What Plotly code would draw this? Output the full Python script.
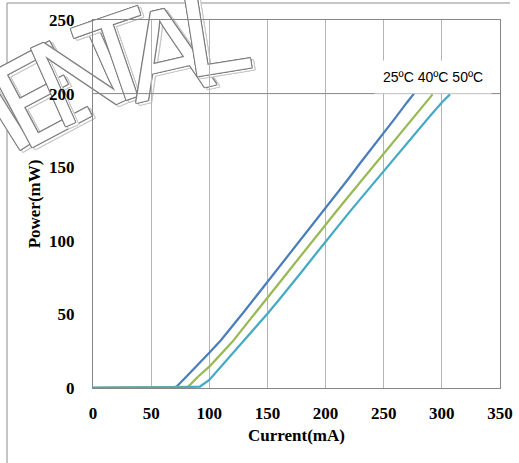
import plotly.graph_objects as go

# ---- data ----
current_25 = [0, 10, 20, 30, 40, 50, 60, 70, 72, 80, 90, 100, 110, 120, 130, 140, 150, 160, 170,
              180, 190, 200, 210, 220, 230, 240, 250, 260, 270, 276]
power_25 = [0, 0, 0, 0.1, 0.2, 0.3, 0.5, 0.8, 1.0, 7.5, 15.5, 24, 32.5, 42, 52, 62, 72, 82, 92,
            102, 112, 122, 132.5, 142.5, 153, 163, 173.5, 183.5, 194, 200]

current_40 = [0, 10, 20, 30, 40, 50, 60, 70, 80, 82, 90, 100, 110, 120, 130, 140, 150, 160, 170,
              180, 190, 200, 210, 220, 230, 240, 250, 260, 270, 280, 290, 292]
power_40 = [0, 0, 0, 0.1, 0.2, 0.3, 0.4, 0.6, 0.8, 1.0, 7.5, 14.5, 23, 31.5, 41.5, 51.5, 61.5, 71.5,
            81.3, 91, 101, 111.2, 120.8, 130.4, 140, 149.6, 159.2, 168.8, 178.5, 188, 197.5, 199.5]

current_50 = [0, 10, 20, 30, 40, 50, 60, 70, 80, 90, 92, 100, 110, 120, 130, 140, 150, 160, 170,
              180, 190, 200, 210, 220, 230, 240, 250, 260, 270, 280, 290, 300, 307]
power_50 = [0, 0, 0, 0.1, 0.2, 0.3, 0.4, 0.5, 0.6, 0.8, 1.0, 5.5, 14.5, 23, 32, 41.5, 50.5, 60,
            69.5, 79.5, 89.5, 99.5, 109.5, 119, 128.5, 138, 147.5, 157, 166.5, 175.5, 185, 194, 199.5]

x_ticks = [0, 50, 100, 150, 200, 250, 300, 350]
y_ticks = [0, 50, 100, 150, 200, 250]
legend_text = "25ºC 40ºC 50ºC"
watermark_letters = ["I", "E", "N", "T", "A", "L"]

# ---- layout geometry helpers (pixels -> paper) ----
W, H = 519, 463
L, R, T, B = 93, 19, 20, 75
PW, PH = W - L - R, H - T - B


def px(x):
    return (x - L) / PW


def py(y):
    return (H - B - y) / PH


fig = go.Figure()

colors = ["#4A7EBB", "#98B954", "#46AAC5"]
for xs, ys, c, name in [(current_25, power_25, colors[0], "25ºC"),
                        (current_40, power_40, colors[1], "40ºC"),
                        (current_50, power_50, colors[2], "50ºC")]:
    fig.add_trace(go.Scatter(x=xs, y=ys, mode="lines", name=name,
                             line=dict(color=c, width=2.25), hoverinfo="skip"))

shapes = []
# outer frame (top and left edges)
shapes.append(dict(type="line", xref="paper", yref="paper", x0=px(7), x1=px(510), y0=py(3), y1=py(3),
                   line=dict(color="#8C8C8C", width=1), layer="below"))
shapes.append(dict(type="line", xref="paper", yref="paper", x0=px(7), x1=px(7), y0=py(3), y1=py(470),
                   line=dict(color="#8C8C8C", width=1), layer="below"))

# watermark letters (outlined, below the plot content)
wm_pos = [(-4, 100, -32), (34, 84, -28), (75, 62, -24), (114, 46, -19), (164, 40, -13), (213, 18, -9)]
outline_dark = "#7F7F7F"
outline_light = "#C8C8C8"


def outline(col, dx=0, dy=0):
    offs = [(1, 1), (-1, -1), (1, -1), (-1, 1), (1, 0), (-1, 0), (0, 1), (0, -1)]
    return ", ".join(f"{a + dx}px {b + dy}px 0 {col}" for a, b in offs)


for letter, (cx, cy, ang) in zip(watermark_letters, wm_pos):
    for dx, dy, col in [(3, 2, outline_light), (0, 0, outline_dark)]:
        shapes.append(dict(type="rect", xref="paper", yref="paper",
                           x0=px(cx + dx - 70), x1=px(cx + dx + 70),
                           y0=py(cy + dy + 80), y1=py(cy + dy - 80),
                           line=dict(width=0), fillcolor="rgba(0,0,0,0)", layer="below",
                           label=dict(text=letter, textposition="middle center", textangle=ang,
                                      font=dict(family="Liberation Sans Narrow, Liberation Sans, Arial",
                                                size=124, color="white", weight="normal",
                                                shadow=outline(col)))))

# single horizontal gridline at 200
shapes.append(dict(type="line", xref="paper", yref="y", x0=0, x1=1, y0=200, y1=200,
                   line=dict(color="#868686", width=1)))

tick_font = dict(family="Liberation Serif, Times New Roman, serif", size=17, color="black", weight="bold")

fig.update_layout(
    width=W, height=H, autosize=False,
    margin=dict(l=L, r=R, t=T, b=B, pad=0),
    paper_bgcolor="white", plot_bgcolor="rgba(0,0,0,0)",
    showlegend=False,
    shapes=shapes,
    xaxis=dict(range=[0, 350], tickvals=x_ticks, ticktext=[str(v) for v in x_ticks],
               showgrid=True, gridcolor="#B4B4B4", gridwidth=1, zeroline=False,
               showline=True, mirror=True, linecolor="#868686", linewidth=1,
               ticks="", tickfont=tick_font, ticklabelstandoff=10, automargin=False,
               title=dict(text="Current(mA)", font=tick_font, standoff=6)),
    yaxis=dict(range=[0, 250], tickvals=y_ticks, ticktext=[str(v) for v in y_ticks],
               showgrid=False, zeroline=False,
               showline=True, mirror=True, linecolor="#868686", linewidth=1,
               ticks="", tickfont=tick_font, ticklabelstandoff=14, automargin=False,
               title=dict(text="Power(mW)", font=tick_font, standoff=4)),
    annotations=[dict(x=292.8, y=211.6, xref="x", yref="y", text=legend_text, showarrow=False,
                      font=dict(family="Liberation Sans, Arial", size=14, color="black"),
                      bgcolor="white", borderpad=8)],
)

fig.write_html("out.html", config={"displayModeBar": False},
               post_script="document.body.style.margin='0px';")
